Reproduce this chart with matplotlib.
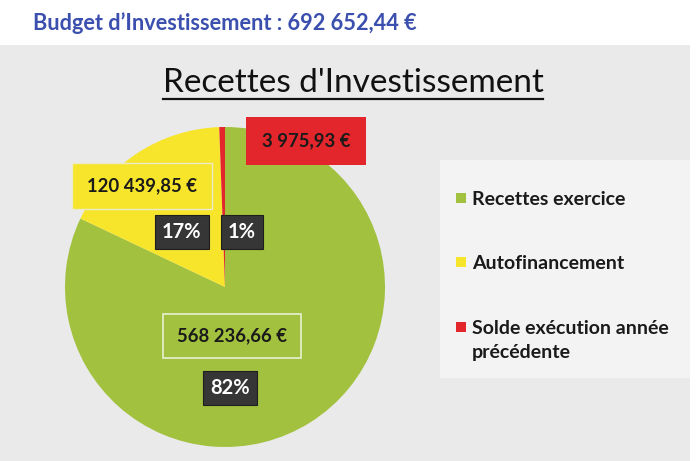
import matplotlib
matplotlib.use("Agg")
import matplotlib.pyplot as plt
from matplotlib.patches import Rectangle
from matplotlib.lines import Line2D
import numpy as np

# ---- data ----
categories = ["Recettes exercice", "Autofinancement", "Solde exécution année\nprécédente"]
values = [568236.66, 120439.85, 3975.93]
value_labels = ["568 236,66 €", "120 439,85 €", "3 975,93 €"]
pct_labels = ["82%", "17%", "1%"]
colors = ["#a2c13e", "#f7e52c", "#e3262b"]
budget_title = "Budget d\u2019Investissement : 692 652,44 €"
chart_title = "Recettes d'Investissement"

W, H = 699, 461
fig = plt.figure(figsize=(W / 100, H / 100), dpi=100)
fig.patch.set_facecolor("white")

def fx(px):
    return px / W

def fy(py):
    return 1 - py / H

# slide background
fig.patches.append(Rectangle((0, 0), fx(690), fy(45), transform=fig.transFigure,
                             facecolor="#eaeaea", edgecolor="none", zorder=-2))
fig.patches.append(Rectangle((fx(440), fy(378)), fx(250), (378 - 160) / H,
                             transform=fig.transFigure, facecolor="#f3f3f3",
                             edgecolor="none", zorder=-1))

FONT = "Lato"

# top heading
fig.text(fx(33), fy(23), budget_title, color="#3b4fae", fontsize=15.7,
         fontweight="bold", family=FONT, ha="left", va="center")

# chart title with underline
t = fig.text(fx(353), fy(83), chart_title, color="#111111", fontsize=24,
             family=FONT, ha="center", va="center")
fig.canvas.draw()
bb = t.get_window_extent(renderer=fig.canvas.get_renderer())
x0, x1 = bb.x0 / (W), bb.x1 / (W)
yl = (bb.y0 - 1) / H
fig.add_artist(Line2D([x0, x1], [yl, yl], transform=fig.transFigure,
                      color="#111111", lw=1.6))

# pie
cx, cy, r = 225, 287, 160
ax = fig.add_axes([fx(cx - r), fy(cy + r), 2 * r / W, 2 * r / H])
wedges, _ = ax.pie(values, colors=colors, startangle=90, counterclock=False,
                   radius=1, wedgeprops=dict(linewidth=0))
ax.set_xlim(-1, 1)
ax.set_ylim(-1, 1)
ax.set_aspect("equal")
ax.axis("off")
ax.patch.set_alpha(0)

# value labels (positions in pie data units)
val_pos = [(0.044, -0.306), (-0.52, 0.631), (0.506, 0.913)]
val_box = [dict(facecolor="none", edgecolor="#e3ecc8", boxstyle="square,pad=0.75", lw=1.3),
           dict(facecolor=colors[1], edgecolor="#ecebc8", boxstyle="square,pad=0.8", lw=1),
           dict(facecolor=colors[2], edgecolor="none", boxstyle="square,pad=0.85")]
for (x, y), lab, bx in zip(val_pos, value_labels, val_box):
    ax.text(x, y, lab, ha="center", va="center", fontsize=13.3, fontweight="bold",
            family=FONT, color="#1a1a1a", bbox=bx, clip_on=False, zorder=5)

pct_pos = [(0.031, -0.631), (-0.27, 0.344), (0.106, 0.344)]
for (x, y), lab in zip(pct_pos, pct_labels):
    ax.text(x, y, lab, ha="center", va="center", fontsize=14.5, fontweight="bold",
            family=FONT, color="white", clip_on=False, zorder=5,
            bbox=dict(facecolor="#363636", edgecolor="#1e1e1e",
                      boxstyle="square,pad=0.35", lw=0.8))

# legend (manual)
leg_y = [198, 262, 327]
for yy, lab, col in zip(leg_y, categories, colors):
    fig.patches.append(Rectangle((fx(456), fy(yy + 5)), fx(10), 10 / H,
                                 transform=fig.transFigure, facecolor=col,
                                 edgecolor="none", zorder=3))
    fig.text(fx(472), fy(yy - 7), lab, ha="left", va="top", fontsize=14,
             fontweight="bold", family=FONT, color="#1a1a1a", linespacing=1.5)

fig.savefig("out.png", dpi=100, facecolor=fig.get_facecolor())
